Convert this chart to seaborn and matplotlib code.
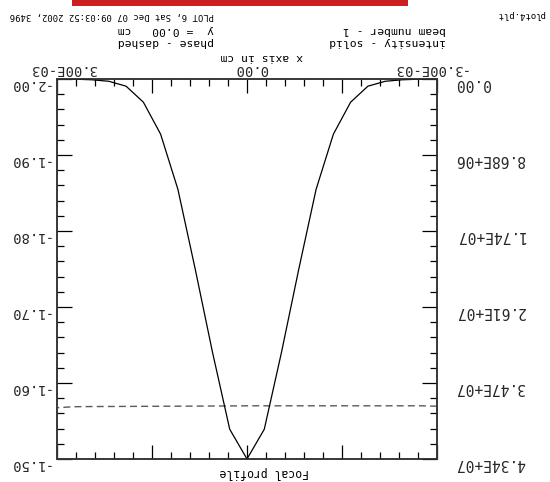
import matplotlib
matplotlib.use("Agg")
import matplotlib.pyplot as plt
import numpy as np
import pandas as pd
import seaborn as sns
from matplotlib.ticker import FixedLocator, MultipleLocator
from matplotlib.transforms import ScaledTranslation
from matplotlib.patches import Rectangle

# ---------------- data ----------------
x_cm = [-3.000e-3, -2.727e-3, -2.455e-3, -2.182e-3, -1.909e-3, -1.636e-3,
        -1.364e-3, -1.091e-3, -0.818e-3, -0.545e-3, -0.273e-3, 0.0,
        0.273e-3, 0.545e-3, 0.818e-3, 1.091e-3, 1.364e-3, 1.636e-3,
        1.909e-3, 2.182e-3, 2.455e-3, 2.727e-3, 3.000e-3]
intensity = [4.0e3, 2.0e4, 8.7e4, 2.6e5, 8.2e5, 2.65e6,
             6.3e6, 1.26e7, 2.17e7, 3.12e7, 4.00e7, 4.34e7,
             4.00e7, 3.12e7, 2.17e7, 1.26e7, 6.3e6, 2.65e6,
             8.2e5, 2.6e5, 8.7e4, 2.0e4, 4.0e3]
phase = [-1.5695, -1.5700, -1.5700, -1.5700, -1.5700, -1.5700,
         -1.5700, -1.5700, -1.5700, -1.5700, -1.5700, -1.5700,
         -1.5698, -1.5697, -1.5696, -1.5695, -1.5694, -1.5693,
         -1.5692, -1.5691, -1.5690, -1.5688, -1.5675]

x_major = [-3e-3, -1.5e-3, 0.0, 1.5e-3, 3e-3]
x_major_labels = ["-3.00E-03", "", "0.00", "", "3.00E-03"]
phase_ticks = [-2.0, -1.9, -1.8, -1.7, -1.6, -1.5]
phase_labels = ["-2.00", "-1.90", "-1.80", "-1.70", "-1.60", "-1.50"]
int_ticks = [0.0, 8.68e6, 1.736e7, 2.604e7, 3.472e7, 4.34e7]
int_labels = ["0.00", "8.68E+06", "1.74E+07", "2.61E+07", "3.47E+07", "4.34E+07"]

title = "Focal profile"
xlabel = "x axis in cm"
legend_left = ["intensity - solid", "beam number - 1"]
legend_mid = ["phase - dashed", "y  = 0.00   cm"]
stamp = "PLOT 6, Sat Dec 07 09:03:52 2002, 3496"
fname = "plot4.plt"

# ---------------- figure ----------------
sns.set_style("white")
plt.rcParams["font.family"] = ["DejaVu Sans Mono", "DejaVu Sans"]

W, H = 550, 482
fig = plt.figure(figsize=(W / 100, H / 100), dpi=100)
L, T, R, B = 57, 79, 437, 459
ax = fig.add_axes([L / W, 1 - B / H, (R - L) / W, (B - T) / H])
ax2 = ax.twinx()

df = pd.DataFrame({"x": x_cm, "intensity": intensity, "phase": phase})
sns.lineplot(data=df, x="x", y="phase", ax=ax, color="#5a5a5a", linewidth=1.0,
             linestyle=(0, (5, 3)))
sns.lineplot(data=df, x="x", y="intensity", ax=ax2, color="black", linewidth=0.9)

# whole chart is upside down
ax.set_xlim(3e-3, -3e-3)
ax.set_ylim(-1.5, -2.0)
ax2.set_ylim(4.34e7, 0.0)
for a in (ax, ax2):
    a.set_xlabel("")
    a.set_ylabel("")
    for s in a.spines.values():
        s.set_color("#333333")
        s.set_linewidth(1.1)

ax.xaxis.set_major_locator(FixedLocator(x_major))
ax.set_xticklabels(x_major_labels)
ax.xaxis.set_minor_locator(MultipleLocator(3e-4))
ax.yaxis.set_major_locator(FixedLocator(phase_ticks))
ax.set_yticklabels(phase_labels)
ax.yaxis.set_minor_locator(MultipleLocator(0.02))
ax2.yaxis.set_major_locator(FixedLocator(int_ticks))
ax2.set_yticklabels(int_labels)
ax2.yaxis.set_minor_locator(MultipleLocator(1.736e6))

tick_kw = dict(direction="in", color="black", width=0.9)
ax.tick_params(axis="x", which="both", top=True, bottom=True,
               labeltop=True, labelbottom=False, **tick_kw)
ax.tick_params(axis="x", which="major", length=10, pad=2,
               labelrotation=180, labelsize=10)
ax.tick_params(axis="x", which="minor", length=5)
ax.tick_params(axis="y", which="both", left=True, right=False, **tick_kw)
ax.tick_params(axis="y", which="major", length=11, pad=5,
               labelrotation=180, labelsize=10)
ax.tick_params(axis="y", which="minor", length=5)
ax2.tick_params(axis="y", which="both", right=True, left=False, **tick_kw)
ax2.tick_params(axis="y", which="major", length=11, pad=13,
                labelrotation=180, labelsize=10.5)
ax2.tick_params(axis="y", which="minor", length=5)
ax2.tick_params(axis="x", which="both", top=False, bottom=False,
                labeltop=False, labelbottom=False)

# small offsets of tick labels as in the reference
dx = {0: -8, 2: 4, 4: 7}
for i, lbl in enumerate(ax.xaxis.get_majorticklabels()):
    if i in dx:
        lbl.set_transform(lbl.get_transform() +
                          ScaledTranslation(dx[i] / 100, 0, fig.dpi_scale_trans))
for lbl in list(ax.yaxis.get_majorticklabels()) + list(ax2.yaxis.get_majorticklabels()):
    lbl.set_transform(lbl.get_transform() +
                      ScaledTranslation(0, -3 / 100, fig.dpi_scale_trans))


def ftext(px, py, s, size, ha="center"):
    fig.text(px / W, 1 - py / H, s, rotation=180, ha=ha, va="center",
             fontsize=size, color="black")


ftext(264, 472, title, 8.3)
ftext(262, 57, xlabel, 8.2)
ftext(446, 42, legend_left[0], 8.2, ha="right")
ftext(446, 30, legend_left[1], 8.2, ha="right")
ftext(214, 42, legend_mid[0], 8.2, ha="right")
ftext(214, 30, legend_mid[1], 8.2, ha="right")
ftext(214, 16, stamp, 6.4, ha="right")
ftext(545, 15, fname, 6.5, ha="right")

fig.add_artist(Rectangle((72 / W, 1 - 6 / H), (408 - 72) / W, 6 / H,
                         transform=fig.transFigure, color="#cc2020", lw=0))

fig.savefig("out.png", dpi=100)
